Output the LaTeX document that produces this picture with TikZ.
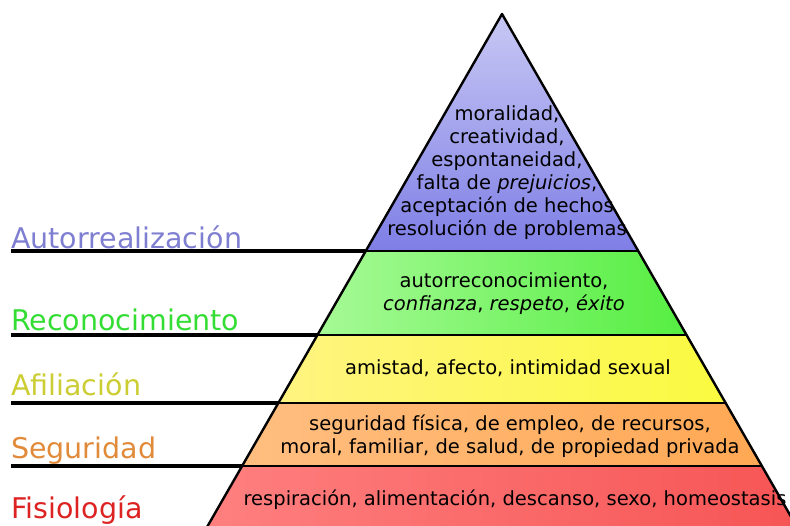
\documentclass[tikz,border=0pt]{standalone}
\usepackage{fontspec}
\setmainfont{DejaVu Sans}

\definecolor{autocol}{HTML}{7F7FD2}
\definecolor{reconcol}{HTML}{33DD33}
\definecolor{afilcol}{HTML}{CCCC33}
\definecolor{segcol}{HTML}{E08A3A}
\definecolor{fisiocol}{HTML}{DD2222}

\begin{document}
\begin{tikzpicture}[x=1pt,y=-1pt,
    nivel/.style={anchor=base west, inner sep=0pt, font=\fontsize{28.5}{30}\selectfont},
    caja/.style={align=center, inner sep=0pt, font=\fontsize{19.5}{23}\selectfont},
    linea/.style={line width=3.2pt},
    borde/.style={line width=2.4pt, line join=round}]
    \useasboundingbox (0,0) rectangle (790,525);

    % pyramid corners
    \coordinate (apex) at (502,14);
    \coordinate (l1) at (365.7,251);  \coordinate (r1) at (638.3,251);
    \coordinate (l2) at (317.4,335);  \coordinate (r2) at (686.6,335);
    \coordinate (l3) at (278.3,403);  \coordinate (r3) at (725.7,403);
    \coordinate (l4) at (242.1,466);  \coordinate (r4) at (761.9,466);
    \coordinate (l5) at (196.7,545);  \coordinate (r5) at (807.3,545);

    \begin{scope}
        \clip (0,0) rectangle (790,525);
        \shade [top color={rgb,255:red,200;green,200;blue,244}, middle color={rgb,255:red,238;green,238;blue,252},
                bottom color={rgb,255:red,126;green,126;blue,230}] (apex) -- (r1) -- (l1) -- cycle;
        \shade [left color={rgb,255:red,166;green,250;blue,150}, right color={rgb,255:red,86;green,238;blue,66}]
                (l1) -- (r1) -- (r2) -- (l2) -- cycle;
        \shade [left color={rgb,255:red,255;green,244;blue,128}, right color={rgb,255:red,250;green,250;blue,64}]
                (l2) -- (r2) -- (r3) -- (l3) -- cycle;
        \shade [left color={rgb,255:red,255;green,190;blue,128}, right color={rgb,255:red,255;green,168;blue,84}]
                (l3) -- (r3) -- (r4) -- (l4) -- cycle;
        \shade [left color={rgb,255:red,255;green,128;blue,128}, right color={rgb,255:red,246;green,84;blue,84}]
                (l4) -- (r4) -- (r5) -- (l5) -- cycle;

        \draw [borde] (l5) -- (apex) -- (r5);
        \draw [borde] (l1) -- (r1);
        \draw [borde] (l2) -- (r2);
        \draw [borde] (l3) -- (r3);
        \draw [borde] (l4) -- (r4);
    \end{scope}

    % level names
    \node [nivel, text=autocol]  (autorr) at (11,248) {Autorrealización};
    \node [nivel, text=reconcol] (recon)  at (11,330) {Reconocimiento};
    \node [nivel, text=afilcol]  (afil)   at (11,395) {Afiliación};
    \node [nivel, text=segcol]   (segur)  at (11,458) {Seguridad};
    \node [nivel, text=fisiocol] (fisio)  at (11,518) {Fisiología};

    \coordinate (s1) at (11,251);
    \coordinate (s2) at (11,335);
    \coordinate (s3) at (11,403);
    \coordinate (s4) at (11,466);
    \draw [linea] (s1) -- (l1);
    \draw [linea] (s2) -- (l2);
    \draw [linea] (s3) -- (l3);
    \draw [linea] (s4) -- (l4);

    % needs inside the pyramid
    \node [caja] (cAutorr) at (507,173) {moralidad,\\creatividad,\\espontaneidad,\\falta de \textit{prejuicios},\\aceptación de hechos\\resolución de problemas};
    \node [caja] (cRecon) at (504,293.5) {autorreconocimiento,\\\textit{confianza}, \textit{respeto}, \textit{éxito}};
    \node [caja, anchor=base] (cAfil) at (508,374) {amistad, afecto, intimidad sexual};
    \node [caja] (cSegur) at (510,436.7) {seguridad física, de empleo, de recursos,\\moral, familiar, de salud, de propiedad privada};
    \node [caja, anchor=base] (cFisio) at (515,505) {respiración, alimentación, descanso, sexo, homeostasis};
\end{tikzpicture}
\end{document}
